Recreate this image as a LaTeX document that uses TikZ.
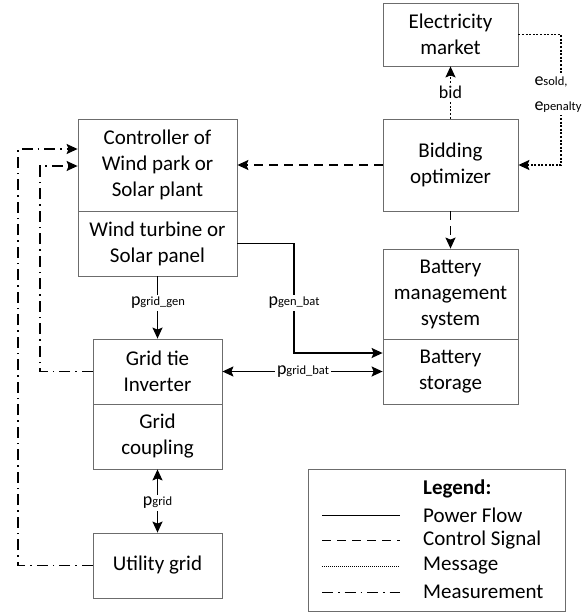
\documentclass[tikz,border=0pt]{standalone}
\usepackage{fontspec}
\setmainfont{Carlito}
\usetikzlibrary{arrows.meta}
\newcommand{\sub}[1]{{\fontsize{12.5}{13}\selectfont #1}}
\begin{document}
\begin{tikzpicture}[x=1pt,y=-1pt,
  box/.style={draw=gray!85!black,line width=0.8pt,inner sep=0pt,align=center,
    font=\fontsize{21}{26}\selectfont},
  tip/.style={-{Stealth[length=11pt,width=10pt,inset=2pt]}},
  btip/.style={{Stealth[length=11pt,width=10pt,inset=2pt]}-{Stealth[length=11pt,width=10pt,inset=2pt]}},
  pw/.style={line width=1.4pt},
  csig/.style={line width=1.4pt,dash pattern=on 9pt off 6pt},
  msg/.style={line width=1.4pt,dash pattern=on 2pt off 1.6pt},
  meas/.style={line width=1.4pt,dash pattern=on 11pt off 5pt on 1.5pt off 5pt},
  lbl/.style={fill=white,inner sep=2pt,font=\fontsize{18}{22}\selectfont},
  legtxt/.style={anchor=west,inner sep=0pt,font=\fontsize{21}{26}\selectfont}]
\useasboundingbox (0,0) rectangle (587,613);
% boxes
\node[box,minimum width=135pt,minimum height=63pt] (market) at (450.5,34.5) {Electricity\\market};
\node[box,minimum width=135pt,minimum height=92pt] (bid) at (450.5,165) {Bidding\\optimizer};
\node[box,minimum width=159pt,minimum height=92pt] (ctrl) at (157.5,165) {Controller of\\Wind park or\\Solar plant};
\node[box,minimum width=159pt,minimum height=65pt] (wind) at (157.5,243.5) {Wind turbine or\\Solar panel};
\node[box,minimum width=135pt,minimum height=90pt] (bms) at (450.5,294) {Battery\\management\\system};
\node[box,minimum width=135pt,minimum height=65pt] (bat) at (450.5,371.5) {Battery\\storage};
\node[box,minimum width=129pt,minimum height=65pt] (inv) at (157.5,371.5) {Grid tie\\Inverter};
\node[box,minimum width=129pt,minimum height=65pt] (coup) at (157.5,436.5) {Grid\\coupling};
\node[box,minimum width=129pt,minimum height=65pt] (util) at (157.5,565.5) {Utility grid};
% messages
\draw[msg,tip] (bid.north) -- node[lbl] (lbid) {bid} (market.south);
\coordinate (e1) at (561,34.5);
\coordinate (e2) at (561,165);
\draw[msg,tip] (market.east) -- (e1) -- (e2) -- (bid.east);
\node[lbl,align=left,font=\fontsize{18}{25}\selectfont] (elab) at (558,95) {e\sub{sold,}\\e\sub{penalty}};
% control signals
\draw[csig,tip] (bid.west) -- (ctrl.east);
\draw[csig,tip] (bid.south) -- (bms.north);
% power flows
\coordinate (g1) at (294,243.5);
\coordinate (g2) at (294,353);
\draw[pw,tip] (wind.east) -- (g1) -- (g2) -- (g2 -| bat.west);
\node[lbl] (lgb) at (294,303) {p\sub{gen\_bat}};
\draw[pw,tip] (wind.south) -- (inv.north);
\node[lbl] (lgg) at (158,303) {p\sub{grid\_gen}};
\draw[pw,btip] (inv.east) -- (bat.west);
\node[lbl] (lgbt) at (303,371.5) {p\sub{grid\_bat}};
\draw[pw,btip] (coup.south) -- (util.north);
\node[lbl] (lgr) at (157.5,503) {p\sub{grid}};
% measurements
\coordinate (m1) at (18,149);
\coordinate (m2) at (40,166);
\draw[meas,tip] (util.west) -| (m1) -- (m1 -| ctrl.west);
\draw[meas,tip] (inv.west) -| (m2) -- (m2 -| ctrl.west);
% legend
\node[draw=gray!85!black,line width=0.8pt,minimum width=257pt,minimum height=142pt,inner sep=0pt] (leg) at (436.5,540) {};
\node[legtxt,font=\fontsize{21}{26}\selectfont\bfseries] (lt) at (423,489) {Legend:};
\node[legtxt] (l1) at (423,515) {Power Flow};
\node[legtxt] (l2) at (423,540) {Control Signal};
\node[legtxt] (l3) at (423,566) {Message};
\node[legtxt] (l4) at (423,592) {Measurement};
\coordinate (a1) at (322,515); \coordinate (b1) at (400,515);
\coordinate (a2) at (322,540); \coordinate (b2) at (400,540);
\coordinate (a3) at (322,566); \coordinate (b3) at (400,566);
\coordinate (a4) at (322,592); \coordinate (b4) at (400,592);
\draw[line width=1pt] (a1) -- (b1);
\draw[line width=1pt,dash pattern=on 9pt off 6pt] (a2) -- (b2);
\draw[line width=1pt,dash pattern=on 1pt off 1pt] (a3) -- (b3);
\draw[line width=1pt,dash pattern=on 11pt off 5pt on 1.5pt off 5pt] (a4) -- (b4);
\end{tikzpicture}
\end{document}
